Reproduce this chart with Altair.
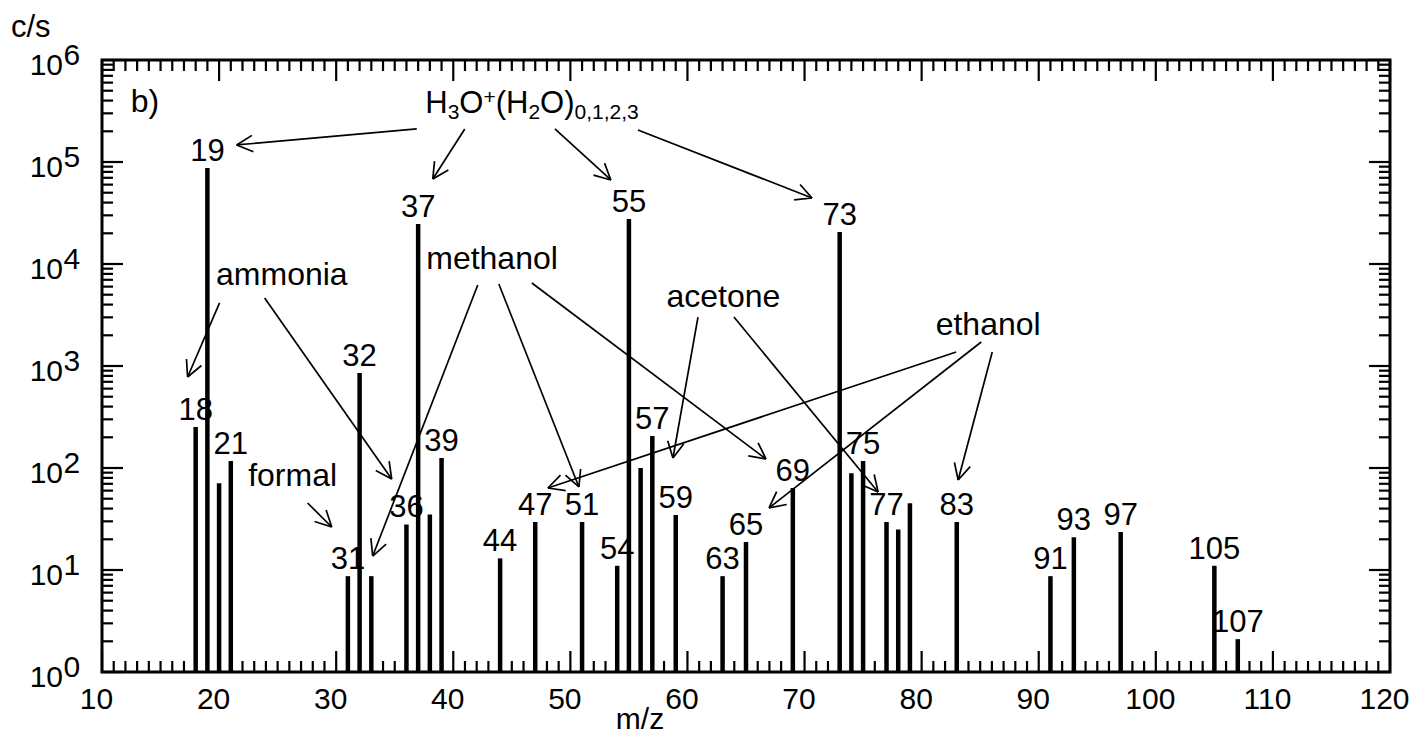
import math
import altair as alt
import pandas as pd

FONT = "Liberation Sans"
W, H = 1288, 612
X_DOMAIN = [10, 120]
Y_DOMAIN = [1, 1e6]

# ---- spectrum: m/z and count rate (c/s) ----
mz = [18, 19, 20, 21, 31, 32, 33, 36, 37, 38, 39, 44, 47, 51, 54, 55, 56, 57,
      59, 63, 65, 69, 73, 74, 75, 77, 78, 79, 83, 91, 93, 97, 105, 107]
cps = [252, 87300, 71, 117, 8.7, 853, 8.7, 28, 24700, 35, 125, 13, 29.5, 29.5,
       11, 27600, 100, 206, 34.6, 8.7, 18.8, 63.7, 20600, 89, 117, 29.5, 25,
       45, 29.5, 8.7, 21, 23.6, 11, 2.1]
labeled = [18, 19, 21, 31, 32, 36, 37, 39, 44, 47, 51, 54, 55, 57, 59, 63, 65,
           69, 73, 75, 77, 83, 91, 93, 97, 105, 107]

# ---- annotation words: anchor (m/z, c/s), left aligned on baseline ----
word_text = ["ammonia", "methanol", "acetone", "ethanol", "formal", "b)"]
word_mz = [19.74, 37.69, 58.21, 81.20, 22.48, 12.45]
word_cps = [6220, 8930, 3790, 2014, 66.6, 309000]

# ---- arrows: start (m/z, c/s) -> tip (m/z, c/s) ----
arrow_x0 = [36.88, 40.98, 48.68, 55.77, 20.04, 23.89, 27.56, 42.09, 43.89,
            46.71, 60.90, 63.97, 82.95, 85.09, 86.03]
arrow_y0 = [210900, 210900, 210900, 206100, 4150, 4645, 45.4, 6220, 6370,
            6520, 3020, 3020, 1371, 1718, 1371]
arrow_x1 = [21.50, 38.25, 53.46, 70.64, 17.31, 34.74, 29.62, 33.12, 50.73,
            66.71, 58.76, 76.28, 48.08, 66.97, 83.12]
arrow_y1 = [146900, 68080, 66680, 44360, 780, 78, 26.4, 13.7, 65.2,
            122.5, 125.3, 58.2, 63.7, 40.6, 76.2]

# ---- ion formula label H3O+(H2O)0,1,2,3 ----
ion_mz, ion_cps = 37.61, 302000
ion_pieces = [("H", "n"), ("3", "sub"), ("O", "n"), ("+", "sup"), ("(", "n"),
              ("H", "n"), ("2", "sub"), ("O", "n"), (")", "n"), ("0,1,2,3", "sub")]

xs = alt.Scale(domain=X_DOMAIN, nice=False, zero=False)
ys = alt.Scale(type="log", domain=Y_DOMAIN, nice=False)


def to_px(m, c):
    return ((m - X_DOMAIN[0]) / (X_DOMAIN[1] - X_DOMAIN[0]) * W,
            (1 - math.log10(c) / 6) * H)


def from_px(px, py):
    return (X_DOMAIN[0] + px / W * (X_DOMAIN[1] - X_DOMAIN[0]),
            10 ** (6 * (1 - py / H)))


peaks = pd.DataFrame({"mz": mz, "cps": cps})
peaks["base"] = 1
peaks["label"] = [str(m) if m in labeled else "" for m in mz]

# x axis carries only the labels; ticks are drawn inward below
bars = alt.Chart(peaks).mark_rule(color="black", strokeWidth=4.5).encode(
    x=alt.X("mz:Q", scale=xs, title=None,
            axis=alt.Axis(values=list(range(10, 121, 10)), ticks=False, domain=False,
                          grid=False, labelFontSize=30, labelColor="black",
                          labelFont=FONT, labelPadding=12, labelOffset=-6,
                          labelFlush=False, labelBaseline="top")),
    y=alt.Y("cps:Q", scale=ys, axis=None),
    y2="base:Q",
)

peak_labels = alt.Chart(peaks).mark_text(
    fontSize=31, dy=-7, baseline="alphabetic", align="center", color="black"
).encode(x=alt.X("mz:Q", scale=xs), y=alt.Y("cps:Q", scale=ys, axis=None),
         text="label:N")

# inward ticks on all four sides
x_major = list(range(10, 121, 10))
x_minor = [v for v in range(11, 120) if v % 10 != 0]
y_major = [10 ** k for k in range(0, 7)]
y_minor = [m * 10 ** k for k in range(0, 6) for m in range(2, 10)]
MAJ, MIN = 21, 11


def xticks(vals, length):
    d = pd.DataFrame({"v": vals})
    bottom = alt.Chart(d).mark_rule(color="black", strokeWidth=2.2).encode(
        x=alt.X("v:Q", scale=xs), y=alt.value(H), y2=alt.value(H - length))
    top = alt.Chart(d).mark_rule(color="black", strokeWidth=2.2).encode(
        x=alt.X("v:Q", scale=xs), y=alt.value(0), y2=alt.value(length))
    return [bottom, top]


def yticks(vals, length):
    d = pd.DataFrame({"v": vals})
    left = alt.Chart(d).mark_rule(color="black", strokeWidth=2.2).encode(
        y=alt.Y("v:Q", scale=ys, axis=None), x=alt.value(0), x2=alt.value(length))
    right = alt.Chart(d).mark_rule(color="black", strokeWidth=2.2).encode(
        y=alt.Y("v:Q", scale=ys, axis=None), x=alt.value(W), x2=alt.value(W - length))
    return [left, right]


tick_layers = xticks(x_major, MAJ) + xticks(x_minor, MIN) + yticks(y_major, MAJ) + yticks(y_minor, MIN)

# y labels as 10 with a raised exponent
ylab = pd.DataFrame({"v": y_major, "base": ["10"] * 7,
                     "exp": [str(k) for k in range(0, 7)]})
ylab_base = alt.Chart(ylab).mark_text(
    fontSize=30, align="right", baseline="alphabetic", dy=15, color="black"
).encode(y=alt.Y("v:Q", scale=ys, axis=None), x=alt.value(-39), text="base:N")
ylab_exp = alt.Chart(ylab).mark_text(
    fontSize=30, align="left", baseline="alphabetic", dy=5, color="black"
).encode(y=alt.Y("v:Q", scale=ys, axis=None), x=alt.value(-38.5), text="exp:N")

cs_title = alt.Chart(pd.DataFrame({"t": ["c/s"]})).mark_text(
    fontSize=31, align="left", baseline="alphabetic", color="black"
).encode(x=alt.value(-91), y=alt.value(-23), text="t:N")
mz_title = alt.Chart(pd.DataFrame({"t": ["m/z"]})).mark_text(
    fontSize=30, align="center", baseline="alphabetic", color="black"
).encode(x=alt.value(538), y=alt.value(H + 57), text="t:N")

words = pd.DataFrame({"t": word_text, "mz": word_mz, "cps": word_cps})
word_layer = alt.Chart(words).mark_text(
    fontSize=32, align="left", baseline="alphabetic", color="black"
).encode(x=alt.X("mz:Q", scale=xs), y=alt.Y("cps:Q", scale=ys, axis=None),
         text="t:N")

# arrows: a shaft plus two short barbs at the tip, one segment per row
HEAD_LEN, HEAD_HALF = 18, 27
seg_x0, seg_y0, seg_x1, seg_y1 = [], [], [], []
for a0, b0, a1, b1 in zip(arrow_x0, arrow_y0, arrow_x1, arrow_y1):
    seg_x0.append(a0); seg_y0.append(b0); seg_x1.append(a1); seg_y1.append(b1)
    p0, q0 = to_px(a0, b0)
    p1, q1 = to_px(a1, b1)
    back = math.atan2(q0 - q1, p0 - p1)
    for s in (-1, 1):
        t = back + s * math.radians(HEAD_HALF)
        ex, ey = from_px(p1 + HEAD_LEN * math.cos(t), q1 + HEAD_LEN * math.sin(t))
        seg_x0.append(ex); seg_y0.append(ey); seg_x1.append(a1); seg_y1.append(b1)

segs = pd.DataFrame({"x0": seg_x0, "y0": seg_y0, "x1": seg_x1, "y1": seg_y1})
arrow_layer = alt.Chart(segs).mark_rule(color="black", strokeWidth=1.7).encode(
    x=alt.X("x0:Q", scale=xs), y=alt.Y("y0:Q", scale=ys, axis=None),
    x2="x1:Q", y2="y1:Q")

# formula label built from normal, sub- and superscript pieces
F_MAIN, F_SUB = 31, 21
ADV = {"H": 0.722, "O": 0.778, "(": 0.333, ")": 0.333, "+": 0.584, ",": 0.278}
ion_layers = []
off = 0.0
for txt, kind in ion_pieces:
    size = F_MAIN if kind == "n" else F_SUB
    dy = {"n": 0, "sub": 6, "sup": -9}[kind]
    piece = pd.DataFrame({"mz": [ion_mz], "cps": [ion_cps], "t": [txt]})
    ion_layers.append(alt.Chart(piece).mark_text(
        fontSize=size, dx=off, dy=dy, align="left",
        baseline="alphabetic", color="black"
    ).encode(x=alt.X("mz:Q", scale=xs), y=alt.Y("cps:Q", scale=ys, axis=None),
             text="t:N"))
    off += sum(ADV.get(c, 0.556) for c in txt) * size

chart = alt.layer(
    *tick_layers, peak_labels, bars, arrow_layer, word_layer, *ion_layers,
    ylab_base, ylab_exp, cs_title, mz_title
).properties(
    width=W, height=H,
    autosize=alt.AutoSizeParams(type="none"),
    padding={"left": 102, "top": 60, "right": 24, "bottom": 66},
).configure(font=FONT).configure_view(stroke="black", strokeWidth=3)

chart.save("out.html", embed_options={"renderer": "svg", "actions": False})
